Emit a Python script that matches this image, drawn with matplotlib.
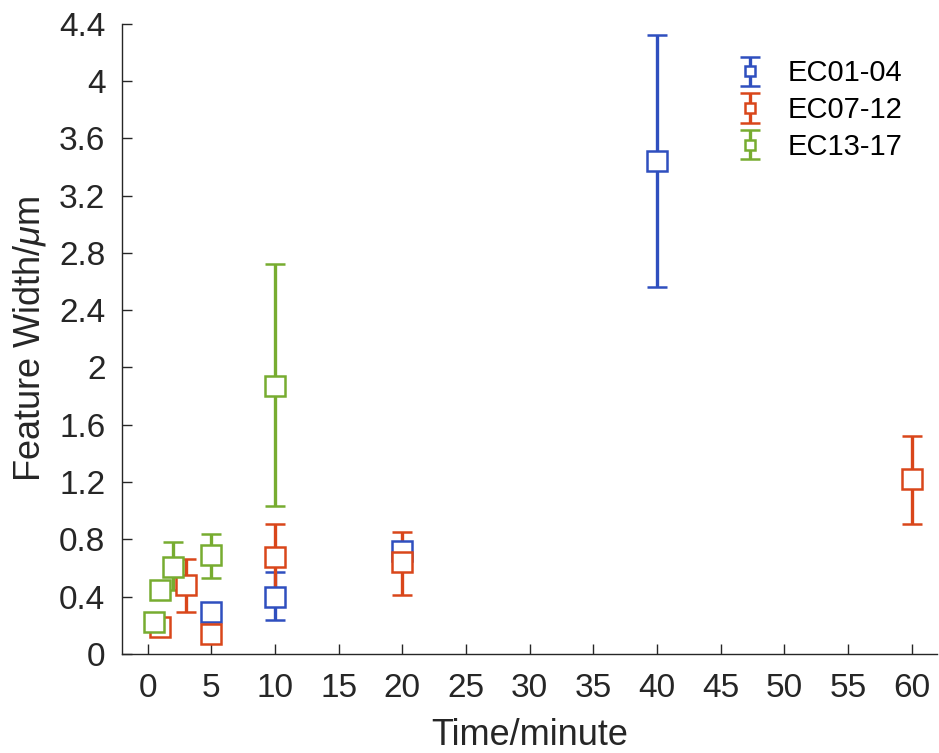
import matplotlib
matplotlib.use("Agg")
import matplotlib.pyplot as plt
from matplotlib.ticker import FuncFormatter

plt.rcParams["font.family"] = ["Liberation Sans", "DejaVu Sans"]
plt.rcParams["mathtext.fontset"] = "custom"
plt.rcParams["mathtext.it"] = "Liberation Sans:italic"
plt.rcParams["mathtext.rm"] = "Liberation Sans"

# EC01-04
t_ec01 = [5, 10, 20, 40]
w_ec01 = [0.29, 0.40, 0.72, 3.44]
lo_ec01 = [0.02, 0.16, 0.05, 0.88]
hi_ec01 = [0.02, 0.17, 0.05, 0.88]

# EC07-12
t_ec07 = [1, 3, 5, 10, 20, 60]
w_ec07 = [0.19, 0.48, 0.14, 0.68, 0.64, 1.22]
lo_ec07 = [0.02, 0.19, 0.04, 0.25, 0.23, 0.31]
hi_ec07 = [0.02, 0.18, 0.04, 0.23, 0.21, 0.30]

# EC13-17
t_ec13 = [0.5, 1, 2, 5, 10]
w_ec13 = [0.22, 0.45, 0.61, 0.69, 1.87]
lo_ec13 = [0.02, 0.05, 0.16, 0.16, 0.84]
hi_ec13 = [0.02, 0.05, 0.17, 0.15, 0.85]

SERIES = [
    ("EC01-04", t_ec01, w_ec01, lo_ec01, hi_ec01, "#2f4fbf"),
    ("EC07-12", t_ec07, w_ec07, lo_ec07, hi_ec07, "#d9461a"),
    ("EC13-17", t_ec13, w_ec13, lo_ec13, hi_ec13, "#77ac30"),
]

x_ticks = list(range(0, 61, 5))
y_ticks = [0, 0.4, 0.8, 1.2, 1.6, 2, 2.4, 2.8, 3.2, 3.6, 4, 4.4]

fig = plt.figure(figsize=(9.39, 7.53), dpi=100)
ax = fig.add_axes([0.130, 0.1315, 0.868, 0.837])

for name, t, w, lo, hi, color in SERIES:
    ax.errorbar(
        t, w, yerr=[lo, hi], fmt="s", color=color, ecolor=color,
        markerfacecolor="white", markeredgecolor=color, markersize=14,
        markeredgewidth=1.8, elinewidth=2.4, capsize=7, capthick=2.4,
        label=name,
    )

ax.set_xlim(-2, 62)
ax.set_ylim(0, 4.4)
ax.set_xticks(x_ticks)
ax.set_yticks(y_ticks)
ax.yaxis.set_major_formatter(FuncFormatter(lambda v, p: f"{v:g}"))

for side in ("top", "right"):
    ax.spines[side].set_visible(False)
for side in ("left", "bottom"):
    ax.spines[side].set_color("#262626")
    ax.spines[side].set_linewidth(1.0)

ax.tick_params(direction="in", length=7, width=1.0, labelsize=24,
               colors="#262626", pad=12)
ax.tick_params(axis="x", pad=14)

ax.set_xlabel("Time/minute", fontsize=26, color="#262626", labelpad=10)
ax.set_ylabel("Feature Width/$\\mu$m", fontsize=26, color="#262626", labelpad=8)

leg = ax.legend(loc="upper right", frameon=False, fontsize=21,
                bbox_to_anchor=(0.99, 0.985), handletextpad=0.9,
                labelspacing=0.3, handlelength=0.8, markerscale=0.5)

fig.savefig("out.png", dpi=100)
